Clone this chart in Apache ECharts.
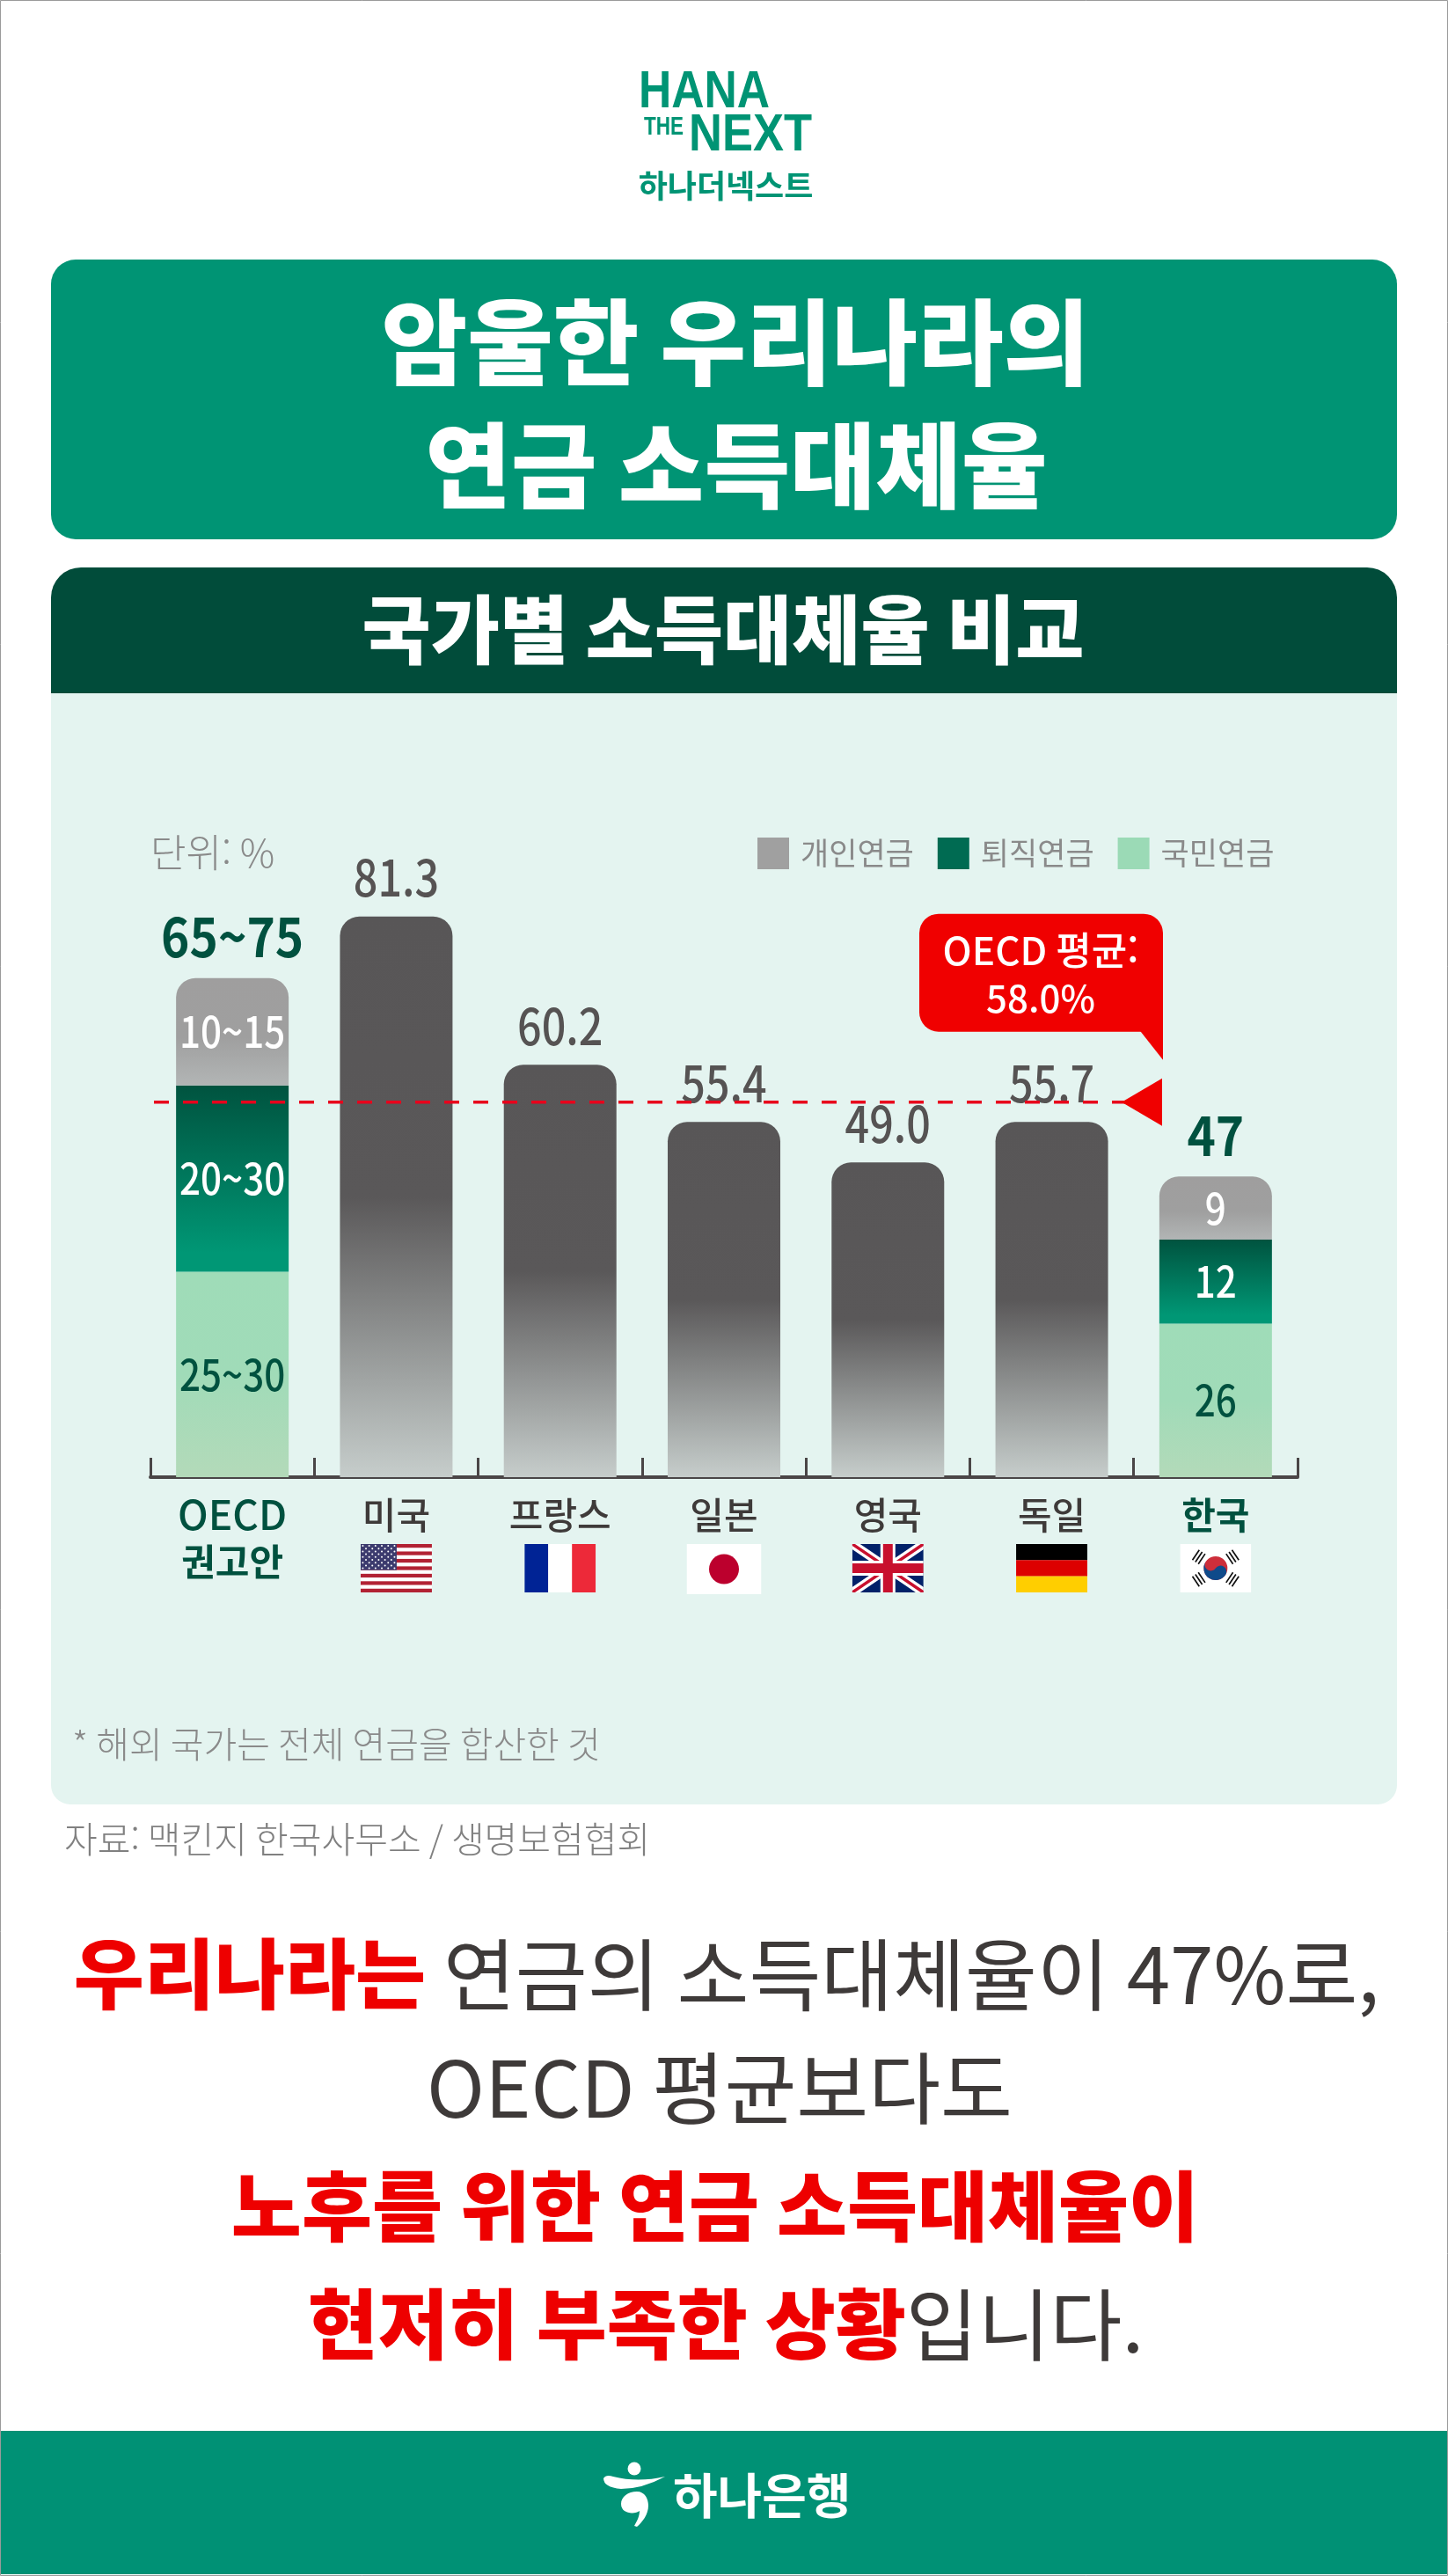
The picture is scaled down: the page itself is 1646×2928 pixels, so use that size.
<!DOCTYPE html>
<html lang="ko">
<head>
<meta charset="utf-8">
<title>국가별 소득대체율 비교</title>
<style>
    html, body { margin: 0; padding: 0; background: #fff; }
    #chart { width: 1646px; height: 2928px; }
</style>
<script src="https://cdn.jsdelivr.net/npm/echarts@6/dist/echarts.min.js"></script>
</head>
<body>
<div id="chart"></div>
<script>
'use strict';

var categories = ['OECD권고안', '미국', '프랑스', '일본', '영국', '독일', '한국'];

// 막대 높이는 그림에서 읽은 값 (원본 그래픽은 적힌 숫자와 비례가 정확히 맞지 않음)
var nationalHeights = [32.0, null, null, null, null, null, 23.9];
var retirementHeights = [29.0, null, null, null, null, null, 13.1];
var personalHeights = [16.7, null, null, null, null, null, 9.8];
var totalHeights = [0, 87.3, 64.2, 55.3, 49.0, 55.3, 0];
var averageHeight = 58.4;

// 막대에 적힌 글자
var nationalLabels = ['25~30', '', '', '', '', '', '26'];
var retirementLabels = ['20~30', '', '', '', '', '', '12'];
var personalLabels = ['10~15', '', '', '', '', '', '9'];
var totalLabels = ['65~75', '81.3', '60.2', '55.4', '49.0', '55.7', '47'];
var averageLabels = ['OECD 평균:', '58.0%'];

var legendNames = ['개인연금', '퇴직연금', '국민연금'];
var legendColors = ['#a0a0a0', '#006b52', '#9bdab6'];
var flagKeys = ['', 'usa', 'fra', 'jpn', 'gbr', 'deu', 'kor'];

var SANS = '"Noto Sans CJK KR", "Noto Sans", sans-serif';
var GREEN = '#009474';
var DARK_GREEN = '#00513f';
var RED = '#f00000';
var INK = '#3e3a39';

function svgUrl(w, h, body) {
    var svg = '<svg xmlns="http://www.w3.org/2000/svg" width="' + w * 2 + '" height="' + h * 2 +
        '" viewBox="0 0 ' + w + ' ' + h + '">' + body + '</svg>';
    return 'data:image/svg+xml;charset=utf-8,' + encodeURIComponent(svg);
}

function usaFlag() {
    var body = '<rect width="81" height="55" fill="#fff"/>';
    var i, j;
    for (i = 0; i < 13; i += 2) {
        body += '<rect y="' + i * 55 / 13 + '" width="81" height="' + 55 / 13 + '" fill="#b22234"/>';
    }
    body += '<rect width="41" height="' + 7 * 55 / 13 + '" fill="#3c3b6e"/>';
    for (i = 0; i < 9; i++) {
        for (j = 0; j < 11; j++) {
            if ((i + j) % 2 === 0) {
                body += '<circle cx="' + (2.5 + j * 3.6) + '" cy="' + (2 + i * 3.2) + '" r="1" fill="#fff"/>';
            }
        }
    }
    return svgUrl(81, 55, body);
}

function gbrFlag() {
    return svgUrl(81, 55,
        '<rect width="81" height="55" fill="#012169"/>' +
        '<path d="M0 0L81 55M81 0L0 55" stroke="#fff" stroke-width="10"/>' +
        '<path d="M0 0L81 55M81 0L0 55" stroke="#c8102e" stroke-width="3.5"/>' +
        '<path d="M40.5 0V55M0 27.5H81" stroke="#fff" stroke-width="17"/>' +
        '<path d="M40.5 0V55M0 27.5H81" stroke="#c8102e" stroke-width="11"/>');
}

function korFlag() {
    var body = '<rect width="81" height="55" fill="#fff"/>' +
        '<g transform="translate(40.5 27.5) rotate(33.7)"><circle r="13.5" fill="#cd2e3a"/>' +
        '<path d="M-13.5 0A6.75 6.75 0 0 0 0 0A6.75 6.75 0 0 1 13.5 0A13.5 13.5 0 0 1-13.5 0Z" fill="#0f4a8a"/></g>';
    [-56.3, 56.3, -123.7, 123.7].forEach(function (angle) {
        body += '<g transform="translate(40.5 27.5) rotate(' + angle + ')" stroke="#111" stroke-width="1.7">' +
            '<path d="M-7 -19H7M-7 -23H7M-7 -27H7"/></g>';
    });
    return svgUrl(81, 55, body);
}

var flagImages = {
    usa: usaFlag(),
    fra: svgUrl(81, 55, '<rect width="27" height="55" fill="#002395"/><rect x="27" width="27" height="55" fill="#fff"/><rect x="54" width="27" height="55" fill="#ed2939"/>'),
    jpn: svgUrl(85, 57, '<rect width="85" height="57" fill="#fff"/><circle cx="42.5" cy="28.5" r="17" fill="#bc002d"/>'),
    gbr: gbrFlag(),
    deu: svgUrl(81, 55, '<rect width="81" height="18.4" fill="#000"/><rect y="18.3" width="81" height="18.4" fill="#dd0000"/><rect y="36.6" width="81" height="18.4" fill="#ffce00"/>'),
    kor: korFlag()
};

// 하나은행 심볼
var hanaSymbol = svgUrl(72, 74,
    '<g fill="#fff"><circle cx="35" cy="8" r="7.5"/>' +
    '<path d="M0 19Q3 14 11 17Q39 24 70 17Q44 31 20 31Q0 29 0 19Z"/>' +
    '<path d="M38 34C47 34 51 42 51 50C51 60 44 69 38 74L35 73C38 68 41 62 41 56C36 60 20 60 20 48C20 40 28 34 38 34Z"/></g>');

function axisRich() {
    var rich = {
        n: { fontFamily: SANS, fontSize: 42, fontWeight: 500, color: INK, lineHeight: 66 },
        g: { fontFamily: SANS, fontSize: 42, fontWeight: 700, color: DARK_GREEN, lineHeight: 66 },
        oecd: { fontFamily: SANS, fontSize: 46, fontWeight: 500, color: DARK_GREEN, lineHeight: 66 },
        g2: { fontFamily: SANS, fontSize: 42, fontWeight: 700, color: DARK_GREEN, lineHeight: 40 }
    };
    Object.keys(flagImages).forEach(function (key) {
        rich[key] = {
            width: key === 'jpn' ? 85 : 81,
            height: key === 'jpn' ? 57 : 55,
            backgroundColor: { image: flagImages[key] }
        };
    });
    return rich;
}

function axisLabel(value, i) {
    if (i === 0) {
        return '{oecd|OECD}\n{g2|권고안}';
    }
    return '{' + (i === 6 ? 'g' : 'n') + '|' + value + '}\n{' + flagKeys[i] + '| }';
}

function gradient(stops) {
    return new echarts.graphic.LinearGradient(0, 0, 0, 1, stops.map(function (s) {
        return { offset: s[0], color: s[1] };
    }));
}

function topRounded(list, r) {
    return list.map(function (v) {
        return v === null ? null : { value: v, itemStyle: { borderRadius: [r, r, 0, 0] } };
    });
}

function stackSeries(name, list, color) {
    return {
        name: name,
        type: 'bar',
        stack: 'pension',
        barWidth: 128,
        data: list,
        itemStyle: { color: color }
    };
}

// 막대 위/안의 숫자 글자 목록. 원본 글꼴이 좁아서 custom 시리즈로 가로 폭을 줄여 그림
function buildLabelItems() {
    var items = [];
    categories.forEach(function (name, i) {
        var isStack = totalHeights[i] === 0;
        var base = 0;
        if (isStack) {
            [
                [nationalHeights, nationalLabels, DARK_GREEN],
                [retirementHeights, retirementLabels, '#fff'],
                [personalHeights, personalLabels, '#fff']
            ].forEach(function (part) {
                items.push({ x: i, y: base + part[0][i] / 2, text: part[1][i], color: part[2], kind: 'part' });
                base += part[0][i];
            });
            items.push({ x: i, y: base, text: totalLabels[i], color: DARK_GREEN, kind: 'stackTop' });
        } else {
            items.push({ x: i, y: totalHeights[i], text: totalLabels[i], color: '#565353', kind: 'top' });
        }
    });
    return items;
}

var labelItems = buildLabelItems();
var labelStyles = {
    part: { font: '500 49px ' + SANS, scaleX: 0.86, dy: 0 },
    top: { font: '500 57px ' + SANS, scaleX: 0.85, dy: -44 },
    stackTop: { font: '700 61px ' + SANS, scaleX: 0.9, dy: -47 }
};

function renderLabel(params, api) {
    var item = labelItems[params.dataIndex];
    var look = labelStyles[item.kind];
    var p = api.coord([api.value(0), api.value(1)]);
    return {
        type: 'text',
        x: p[0],
        y: p[1] + look.dy,
        scaleX: look.scaleX,
        style: { text: item.text, font: look.font, fill: item.color, align: 'center', verticalAlign: 'middle' }
    };
}

// 평균 점선, 삼각형, 말풍선
function renderAverage(params, api) {
    var y = api.coord([0, api.value(1)])[1];
    return {
        type: 'group',
        children: [
            {
                type: 'line',
                shape: { x1: 175, y1: y, x2: 1280, y2: y },
                style: { stroke: '#e8001c', lineWidth: 3.5, lineDash: [17, 16] }
            },
            {
                type: 'polygon',
                shape: { points: [[1275, y], [1321, y - 27], [1321, y + 27]] },
                style: { fill: RED }
            },
            {
                type: 'rect',
                shape: { x: 1045, y: y - 214, width: 277, height: 134, r: [22, 22, 0, 22] },
                style: { fill: RED }
            },
            {
                type: 'polygon',
                shape: { points: [[1296, y - 81], [1322, y - 81], [1322, y - 48]] },
                style: { fill: RED }
            },
            {
                type: 'text',
                style: {
                    x: 1183, y: y - 172, text: averageLabels[0], fill: '#fff', align: 'center', verticalAlign: 'middle',
                    font: '500 44px ' + SANS
                }
            },
            {
                type: 'text',
                style: {
                    x: 1183, y: y - 118, text: averageLabels[1], fill: '#fff', align: 'center', verticalAlign: 'middle',
                    font: '500 42px ' + SANS
                }
            }
        ]
    };
}

function textEl(text, x, y, font, fill, align, extra) {
    var el = {
        type: 'text',
        x: x,
        y: y,
        style: { text: text, font: font, fill: fill, align: align || 'left', verticalAlign: 'middle' }
    };
    return Object.assign(el, extra || {});
}

function bottomLine(text, x, y) {
    return {
        type: 'text',
        x: x,
        y: y,
        style: {
            text: text,
            align: 'center',
            verticalAlign: 'middle',
            rich: {
                r: { fontFamily: SANS, fontSize: 87, fontWeight: 900, fill: '#ee0000' },
                d: { fontFamily: SANS, fontSize: 89, fontWeight: 400, fill: INK }
            }
        }
    };
}

var graphicElements = [
    { type: 'rect', shape: { x: 58, y: 295, width: 1530, height: 318, r: 28 }, style: { fill: GREEN } },
    { type: 'rect', shape: { x: 58, y: 645, width: 1530, height: 144, r: [34, 34, 0, 0] }, style: { fill: '#014c3a' } },
    { type: 'rect', shape: { x: 58, y: 788, width: 1530, height: 1263, r: [0, 0, 22, 22] }, style: { fill: '#e4f4f0' } },
    { type: 'rect', shape: { x: 0, y: 2763, width: 1646, height: 163 }, style: { fill: '#009175' } },
    { type: 'rect', shape: { x: 0.5, y: 0.5, width: 1645, height: 2927 }, style: { fill: 'none', stroke: '#9a9a9a', lineWidth: 1 } },

    textEl('HANA', 726, 105, 'bold 60px "Liberation Sans"', GREEN, 'left', { scaleX: 0.86 }),
    textEl('THE', 732, 145, 'bold 30px "Liberation Sans"', GREEN, 'left', { scaleX: 0.75 }),
    textEl('NEXT', 783, 155, 'bold 59px "Liberation Sans"', GREEN, 'left', { scaleX: 0.89 }),
    textEl('하나더넥스트', 825, 211, '700 36px ' + SANS, GREEN, 'center'),

    textEl('암울한 우리나라의', 836, 389, '900 106px ' + SANS, '#fff', 'center'),
    textEl('연금 소득대체율', 837, 529, '900 106px ' + SANS, '#fff', 'center'),
    textEl('국가별 소득대체율 비교', 822, 716, '900 85px ' + SANS, '#fff', 'center'),

    textEl('단위: %', 171, 969, '300 44px ' + SANS, '#8a8a8a'),
    textEl('* 해외 국가는 전체 연금을 합산한 것', 82, 1982, '300 41px ' + SANS, '#8a8a8a'),
    textEl('자료: 맥킨지 한국사무소 / 생명보험협회', 73, 2090, '300 41px ' + SANS, '#808080'),

    bottomLine('{r|우리나라는 }{d|연금의 소득대체율이 47%로,}', 826, 2244),
    bottomLine('{d|OECD 평균보다도}', 818, 2373),
    bottomLine('{r|노후를 위한 연금 소득대체율이}', 813, 2508),
    bottomLine('{r|현저히 부족한 상황}{d|입니다.}', 825, 2642),

    { type: 'image', x: 686, y: 2798, style: { image: hanaSymbol, width: 72, height: 74 } },
    textEl('하나은행', 765, 2836, '700 55px ' + SANS, '#fff')
];

var chart = echarts.init(document.getElementById('chart'), null, { renderer: 'canvas' });

chart.setOption({
    animation: false,
    backgroundColor: '#fff',
    graphic: { elements: graphicElements },
    legend: {
        left: 861,
        top: 952,
        padding: 0,
        itemWidth: 36,
        itemHeight: 36,
        itemGap: 27,
        selectedMode: false,
        icon: 'rect',
        textStyle: { fontFamily: SANS, fontSize: 35, color: '#8a8a8a', padding: [0, 0, 0, 8] },
        data: legendNames.map(function (name, i) {
            return { name: name, itemStyle: { color: legendColors[i] } };
        })
    },
    grid: { left: 171, top: 949, width: 1304, height: 730 },
    xAxis: {
        type: 'category',
        data: categories,
        axisLine: { lineStyle: { color: '#4a4647', width: 4 } },
        axisTick: { show: true, inside: true, length: 22, lineStyle: { color: '#4a4647', width: 3 } },
        axisLabel: { interval: 0, margin: 10, formatter: axisLabel, rich: axisRich() }
    },
    yAxis: { type: 'value', min: 0, max: 100, show: false },
    series: [
        stackSeries('국민연금', nationalHeights,
            gradient([[0, '#9fdcb8'], [0.5, '#a0dbb8'], [1, '#b3dab9']])),
        stackSeries('퇴직연금', retirementHeights,
            gradient([[0, '#00533f'], [0.9, '#009775'], [1, '#009775']])),
        stackSeries('개인연금', topRounded(personalHeights, 22),
            gradient([[0, '#9f9e9e'], [0.55, '#9f9f9f'], [1, '#b2b5b5']])),
        {
            name: '전체',
            type: 'bar',
            stack: 'pension',
            barWidth: 128,
            data: topRounded(totalHeights, 22),
            itemStyle: { color: gradient([[0, '#585657'], [0.5, '#5a5859'], [1, '#c6cdcb']]) }
        },
        {
            name: '글자',
            type: 'custom',
            z: 4,
            clip: false,
            silent: true,
            data: labelItems.map(function (item) { return [item.x, item.y]; }),
            encode: { x: 0, y: 1 },
            renderItem: renderLabel
        },
        {
            name: '평균',
            type: 'custom',
            z: 5,
            clip: false,
            silent: true,
            data: [[0, averageHeight]],
            encode: { x: 0, y: 1 },
            renderItem: renderAverage
        }
    ]
});
</script>
</body>
</html>
